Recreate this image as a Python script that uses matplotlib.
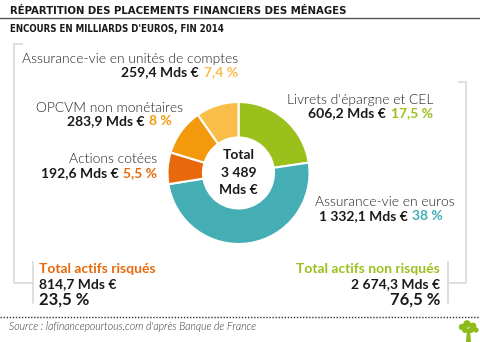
import matplotlib
matplotlib.use("Agg")
import matplotlib.pyplot as plt
from matplotlib.patches import Circle, Polygon
from matplotlib.font_manager import findfont, FontProperties

W, H = 480, 342

title = "RÉPARTITION DES PLACEMENTS FINANCIERS DES MÉNAGES"
subtitle = "ENCOURS EN MILLIARDS D'EUROS, FIN 2014"
categories = ["Livrets d'épargne et CEL", "Assurance-vie en euros", "Actions cotées",
              "OPCVM non monétaires", "Assurance-vie en unités de comptes"]
values = [606.2, 1332.1, 192.6, 283.9, 259.4]
shares = [17.5, 38, 5.5, 8, 7.4]
colors = ["#9bc01c", "#45adb4", "#e8690c", "#f29a0c", "#f9bd48"]
total_value = 3489
risky_total, risky_share = 814.7, 23.5
safe_total, safe_share = 2674.3, 76.5
risky_label = "Total actifs risqués"
safe_label = "Total actifs non risqués"
source = "Source : lafinancepourtous.com d'après Banque de France"

FONT = ["Lato", "DejaVu Sans"]
DARK = "#1a1a1a"


def pick_condensed():
    cands = [("Liberation Sans Narrow", "normal"), ("DejaVu Sans Condensed", "normal"),
             ("DejaVu Sans", "condensed"), ("Noto Sans Condensed", "normal"),
             ("Noto Sans", "condensed"), ("Roboto Condensed", "normal"),
             ("Roboto", "condensed"), ("Open Sans Condensed", "normal"),
             ("Open Sans", "condensed")]
    for fam, st in cands:
        try:
            p = findfont(FontProperties(family=fam, stretch=st, weight="bold"),
                         fallback_to_default=False)
        except Exception:
            continue
        if "narrow" in p.lower() or "condensed" in p.lower():
            return [fam, "DejaVu Sans"], st
    return ["Lato", "DejaVu Sans"], "normal"


TFONT, TSTRETCH = pick_condensed()


def fmt_num(v, dec=1):
    s = f"{v:,.{dec}f}"
    return s.replace(",", " ").replace(".", ",")


def fmt_pct(p):
    if float(p).is_integer():
        return f"{int(p)} %"
    return fmt_num(p) + " %"


fig = plt.figure(figsize=(4.8, 3.42), dpi=100)
ax = fig.add_axes([0, 0, 1, 1])
renderer = fig.canvas.get_renderer()


def Y(y):
    return H - y


def fit_width(t, target):
    bb = t.get_window_extent(renderer)
    if bb.width > 0:
        t.set_fontsize(t.get_fontsize() * target / bb.width)


# donut
cx, cy, R, r_in = 238.5, 173, 71, 35.5
ax.pie(values, colors=colors, startangle=90, counterclock=False, radius=R,
       center=(cx, Y(cy)),
       wedgeprops=dict(width=R - r_in, edgecolor="white", linewidth=1.5))
ax.set_aspect("auto")
ax.set_xlim(0, W)
ax.set_ylim(0, H)
ax.axis("off")

# centre text
for yy, s in [(155, "Total"), (173, fmt_num(total_value, 0)), (190, "Mds €")]:
    ax.text(cx, Y(yy), s, ha="center", va="center", fontsize=10, fontweight="bold",
            family=FONT, color=DARK)

# title block
tt = ax.text(10, Y(10.5), title, ha="left", va="center", fontsize=10, fontweight="bold",
             family=TFONT, fontstretch=TSTRETCH, color=DARK)
fit_width(tt, 338)
ax.plot([0, W], [Y(18), Y(18)], color="#555555", lw=1.0)
st = ax.text(10, Y(29), subtitle, ha="left", va="center", fontsize=7.2, fontweight="bold",
             family=TFONT, fontstretch=TSTRETCH, color=DARK)
fit_width(st, 216)


def label(idx, xr, y1, y2, xr2=None):
    if xr2 is None:
        xr2 = xr
    ax.text(xr, Y(y1), categories[idx], ha="right", va="center", fontsize=10,
            fontweight=300, family=FONT, color="#222222")
    t = ax.text(xr2, Y(y2), fmt_pct(shares[idx]), ha="right", va="center", fontsize=10,
                fontweight="bold", family=FONT, color=colors[idx])
    ax.annotate(fmt_num(values[idx]) + " Mds €", xy=(0, 0.5), xycoords=t,
                xytext=(-3.5, 0), textcoords="offset points", ha="right", va="center",
                fontsize=10, fontweight="bold", family=FONT, color=DARK)


label(4, 238, 59, 72)
label(0, 433, 100, 113)
label(3, 183, 108, 121, 172)
label(2, 157, 159, 173)
label(1, 455, 202, 216, 443)

# brackets
GREY = "#d9d9d9"
ax.plot([22, 14, 14, 33], [Y(44), Y(44), Y(283), Y(283)], color=GREY, lw=1.2)
ax.plot([33, 33], [Y(262), Y(303)], color=GREY, lw=1.2)
ax.plot([459, 466, 466, 448], [Y(82), Y(82), Y(283), Y(283)], color=GREY, lw=1.2)
ax.plot([448, 448], [Y(262), Y(303)], color=GREY, lw=1.2)

# totals
ax.text(39, Y(269), risky_label, ha="left", va="center", fontsize=10, fontweight="bold",
        family=FONT, color="#e8690c")
ax.text(39, Y(284), fmt_num(risky_total) + " Mds €", ha="left", va="center", fontsize=10,
        fontweight="bold", family=FONT, color=DARK)
ax.text(39, Y(300), fmt_pct(risky_share), ha="left", va="center", fontsize=12,
        fontweight="bold", family=FONT, color=DARK)
ax.text(440, Y(269), safe_label, ha="right", va="center", fontsize=10, fontweight="bold",
        family=FONT, color="#9bc01c")
ax.text(440, Y(284), fmt_num(safe_total) + " Mds €", ha="right", va="center", fontsize=10,
        fontweight="bold", family=FONT, color=DARK)
ax.text(440, Y(300), fmt_pct(safe_share), ha="right", va="center", fontsize=12,
        fontweight="bold", family=FONT, color=DARK)

# footer
ax.plot([0, W], [Y(317), Y(317)], color="#333333", lw=1.0, ls=(0, (1, 1.2)))
ax.text(9, Y(327), source, ha="left", va="center", fontsize=7.6, style="italic",
        fontweight=300, family=FONT, color="#333333")

# small tree logo
G = "#8dbb1a"
for (x, y, rr) in [(462, 327, 3.2), (467, 324, 3.8), (473, 326, 3.4), (476, 330, 2.6),
                   (465, 330, 3.0), (471, 330, 3.0)]:
    ax.add_patch(Circle((x, Y(y)), rr, color=G, lw=0))
ax.add_patch(Polygon([(467, Y(329)), (470, Y(329)), (471, Y(342)), (466, Y(342))],
                     closed=True, color=G, lw=0))

fig.savefig("out.png", dpi=100)
